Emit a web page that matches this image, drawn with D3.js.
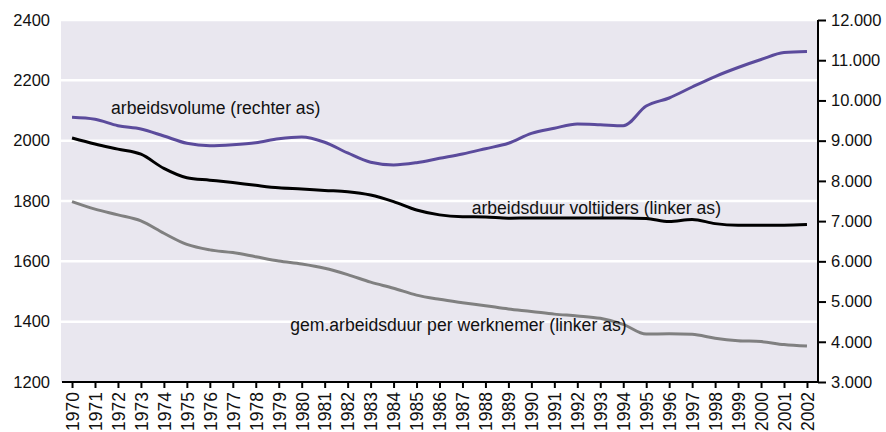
<!DOCTYPE html>
<html><head><meta charset="utf-8">
<script src="https://cdn.jsdelivr.net/npm/d3@7"></script>
<style>
html,body{margin:0;padding:0;background:#fff;}
svg{display:block;font-family:"Liberation Sans",Arial,sans-serif;}
</style></head>
<body><svg id="chart" width="886" height="432"></svg>
<script>
const years = d3.range(1970, 2003);
const arbeidsduurVoltijders = [2009,1989,1972,1955,1908,1877,1869,1861,1852,1844,1840,1835,1831,1820,1798,1770,1754,1748,1747,1743,1744,1744,1744,1744,1744,1742,1732,1739,1725,1720,1720,1720,1722];
const gemArbeidsduur = [1798,1773,1754,1734,1693,1656,1638,1629,1615,1601,1591,1577,1556,1531,1511,1488,1474,1463,1453,1442,1434,1425,1419,1411,1391,1359,1360,1358,1345,1337,1334,1324,1319];
const arbeidsvolume = [9581,9531,9372,9290,9116,8935,8875,8900,8950,9049,9091,8960,8694,8462,8395,8452,8562,8669,8800,8935,9183,9308,9415,9397,9372,9862,10061,10334,10595,10819,11018,11192,11217];
const leftTicks = [1200,1400,1600,1800,2000,2200,2400];
const rightTicks = [3000,4000,5000,6000,7000,8000,9000,10000,11000,12000];
const labels = [
  {text:"arbeidsvolume (rechter as)", year:1971.7, value:2089},
  {text:"arbeidsduur voltijders (linker as)", year:1987.4, value:1757},
  {text:"gem.arbeidsduur per werknemer (linker as)", year:1979.5, value:1370}
];

const svg = d3.select("#chart");
const L = 61, R = 818, T = 20, B = 382;
const x = d3.scalePoint().domain(years).range([L, R]).padding(0.48);
const yL = d3.scaleLinear().domain([1200, 2400]).range([B, T]);
const yR = d3.scaleLinear().domain([3000, 12000]).range([B, T]);
const nl = d3.formatLocale({decimal:",", thousands:".", grouping:[3], currency:["€",""]});
const fmtR = nl.format(",.0f");

svg.append("rect").attr("x", L).attr("y", T).attr("width", R - L).attr("height", B - T).attr("fill", "#e9e7ef");

svg.append("g").selectAll("line").data(leftTicks.filter(d => d > 1200)).join("line")
  .attr("x1", L).attr("x2", R).attr("y1", d => yL(d)).attr("y2", d => yL(d))
  .attr("stroke", "#fff").attr("stroke-width", 2.5);

svg.append("g").selectAll("text").data(leftTicks).join("text")
  .attr("x", 50).attr("y", d => yL(d)).attr("dy", "0.35em")
  .attr("text-anchor", "end").attr("font-size", 16.5).attr("fill", "#111").text(d => d);

const gR = svg.append("g").attr("transform", `translate(${R},0)`)
  .call(d3.axisRight(yR).tickValues(rightTicks).tickFormat(fmtR).tickSize(8).tickPadding(5));
gR.select(".domain").attr("stroke", "#000").attr("stroke-width", 2).attr("d", `M0,${T}V${B}`);
gR.selectAll(".tick line").attr("stroke", "#000").attr("stroke-width", 2);
gR.selectAll(".tick text").attr("font-size", 16.5).attr("fill", "#111").attr("font-family", null);

const gB = svg.append("g").attr("transform", `translate(0,${B})`)
  .call(d3.axisBottom(x).tickSize(6).tickPadding(4));
gB.select(".domain").attr("stroke", "#000").attr("stroke-width", 2).attr("d", `M${L+1},0H${R}`);
gB.selectAll(".tick line").attr("stroke", "#000").attr("stroke-width", 2);
gB.selectAll(".tick text").attr("font-size", 17.5).attr("fill", "#111").attr("font-family", null)
  .attr("transform", "rotate(-90)").attr("text-anchor", "end").attr("x", -10).attr("y", 0).attr("dy", "0.36em");

const lineL = d3.line().x((d, i) => x(years[i])).y(d => yL(d)).curve(d3.curveMonotoneX);
const lineR = d3.line().x((d, i) => x(years[i])).y(d => yR(d)).curve(d3.curveMonotoneX);

svg.append("path").datum(gemArbeidsduur).attr("d", lineL).attr("fill", "none").attr("stroke", "#808080").attr("stroke-width", 3);
svg.append("path").datum(arbeidsduurVoltijders).attr("d", lineL).attr("fill", "none").attr("stroke", "#000").attr("stroke-width", 3);
svg.append("path").datum(arbeidsvolume).attr("d", lineR).attr("fill", "none").attr("stroke", "#5b4b9c").attr("stroke-width", 3);

const xl = d3.scaleLinear().domain([1970, 2002]).range([x(1970), x(2002)]);
svg.append("g").selectAll("text").data(labels).join("text")
  .attr("x", d => xl(d.year)).attr("y", d => yL(d.value))
  .attr("font-size", 17.6).attr("fill", "#111").text(d => d.text);
</script></body></html>
